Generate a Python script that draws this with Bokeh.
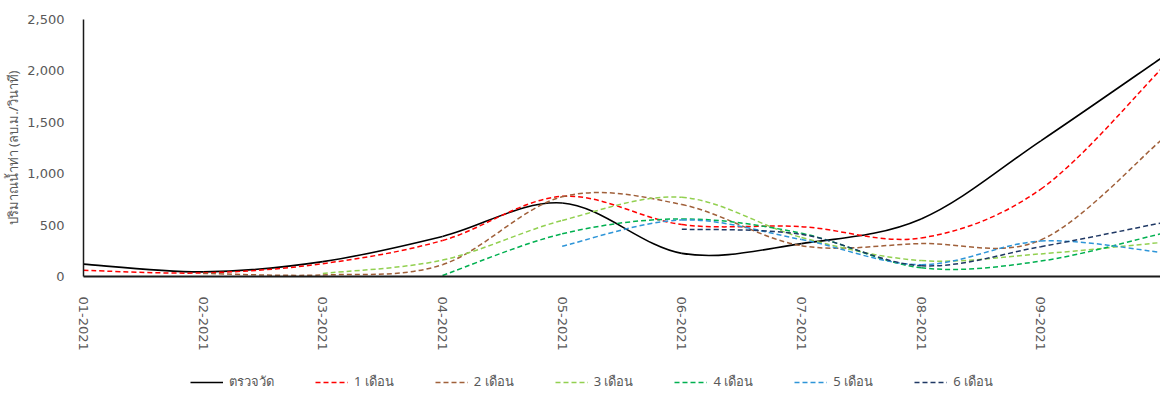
import numpy as np
from bokeh.plotting import figure
from bokeh.layouts import column
from bokeh.models import (Range1d, FixedTicker, NumeralTickFormatter, Legend,
                          LegendItem, ColumnDataSource)
from bokeh.embed import file_html
from bokeh.resources import INLINE

# ---------------- data ----------------
months = ["01-2021", "02-2021", "03-2021", "04-2021", "05-2021",
          "06-2021", "07-2021", "08-2021", "09-2021", "10-2021"]
tick_labels = months[:9]

observed = [120, 45, 145, 390, 715, 225, 320, 560, 1320, 2120]
lead_1 = [60, 35, 125, 350, 780, 505, 485, 375, 850, 2010]
lead_2 = [None, 30, 15, 115, 775, 700, 300, 320, 355, 1320]
lead_3 = [None, None, 30, 160, 545, 770, 380, 155, 220, 330]
lead_4 = [None, None, None, 10, 415, 560, 420, 85, 150, 415]
lead_5 = [None, None, None, None, 295, 550, 360, 115, 345, 235]
lead_6 = [None, None, None, None, None, 460, 410, 105, 290, 520]

series_names = ["ตรวจวัด", "1 เดือน", "2 เดือน", "3 เดือน", "4 เดือน", "5 เดือน", "6 เดือน"]
series_values = [observed, lead_1, lead_2, lead_3, lead_4, lead_5, lead_6]
series_colors = ["#000000", "#FF0000", "#A0603A", "#92D050", "#00B050", "#2E95D8", "#1F3864"]
series_dash = ["solid", "5 3", "5 3", "5 3", "5 3", "5 3", "5 3"]

y_label = "ปริมาณน้ำท่า (ลบ.ม./วินาที)"


def smooth_source(vals):
    """Bezier segments through the points (Excel-like smoothed line)."""
    idx = [i for i, v in enumerate(vals) if v is not None]
    xs = [float(i) for i in idx]
    ys = [float(vals[i]) for i in idx]
    n = len(xs)
    d = dict(x0=[], y0=[], x1=[], y1=[], cx0=[], cy0=[], cx1=[], cy1=[])
    for k in range(n - 1):
        xp, yp = (xs[k - 1], ys[k - 1]) if k > 0 else (xs[k], ys[k])
        xn, yn = (xs[k + 2], ys[k + 2]) if k + 2 < n else (xs[k + 1], ys[k + 1])
        d["x0"].append(xs[k]); d["y0"].append(ys[k])
        d["x1"].append(xs[k + 1]); d["y1"].append(ys[k + 1])
        d["cx0"].append(xs[k] + (xs[k + 1] - xp) / 6.0)
        d["cy0"].append(ys[k] + (ys[k + 1] - yp) / 6.0)
        d["cx1"].append(xs[k + 1] - (xn - xs[k]) / 6.0)
        d["cy1"].append(ys[k + 1] - (yn - ys[k]) / 6.0)
    return ColumnDataSource(d)


W = 1160
p = figure(width=W, height=355, output_backend="svg", toolbar_location=None,
           x_range=Range1d(0, len(months) - 1), y_range=Range1d(0, 2500),
           min_border_left=83, min_border_right=0, min_border_top=19,
           min_border_bottom=79)
p.outline_line_color = None
p.xgrid.visible = False
p.ygrid.visible = False

FONT = "DejaVu Sans"
TXT = "#595959"

# y axis
p.yaxis.ticker = FixedTicker(ticks=[0, 500, 1000, 1500, 2000, 2500])
p.yaxis.formatter = NumeralTickFormatter(format="0,0")
p.yaxis.axis_label = y_label
p.yaxis.axis_label_text_font = "Noto Sans"
p.yaxis.axis_label_text_font_style = "normal"
p.yaxis.axis_label_text_font_size = "13px"
p.yaxis.axis_label_text_color = TXT
p.yaxis.axis_label_standoff = 2
p.yaxis.major_label_text_font = FONT
p.yaxis.major_label_text_font_size = "13px"
p.yaxis.major_label_text_color = TXT
p.yaxis.major_label_standoff = 13
p.yaxis.major_tick_line_color = None
p.yaxis.minor_tick_line_color = None
p.yaxis.axis_line_color = "#1a1a1a"
p.yaxis.axis_line_width = 1.5

# x axis
p.xaxis.ticker = FixedTicker(ticks=list(range(len(tick_labels))))
p.xaxis.major_label_overrides = {i: lab for i, lab in enumerate(tick_labels)}
p.xaxis.major_label_orientation = "vertical"
p.xaxis.major_label_text_font = FONT
p.xaxis.major_label_text_font_size = "13px"
p.xaxis.major_label_text_color = TXT
p.xaxis.major_label_standoff = 14
p.xaxis.major_tick_line_color = None
p.xaxis.minor_tick_line_color = None
p.xaxis.axis_line_color = "#1a1a1a"
p.xaxis.axis_line_width = 2

# legend strip: a second figure whose copies of the series lie outside its view
leg = figure(width=W, height=44, output_backend="svg", toolbar_location=None,
             x_range=Range1d(0, len(months) - 1), y_range=Range1d(-6000, -5000),
             min_border=0, x_axis_type=None, y_axis_type=None)
leg.outline_line_color = None
leg.xgrid.visible = False
leg.ygrid.visible = False

items = []
for name, vals, col, dash in zip(series_names, series_values, series_colors, series_dash):
    src = smooth_source(vals)
    kw = dict(x0="x0", y0="y0", x1="x1", y1="y1", cx0="cx0", cy0="cy0",
              cx1="cx1", cy1="cy1", source=src, line_color=col,
              line_width=1.6 if dash == "solid" else 1.5, line_dash=dash)
    p.bezier(**kw)
    r = leg.bezier(**kw)
    items.append(LegendItem(label=name, renderers=[r]))

legend = Legend(items=items, location=(107, 7), orientation="horizontal",
                glyph_width=33, glyph_height=14, label_height=14,
                label_standoff=6, spacing=41, padding=0, margin=0,
                border_line_color=None, background_fill_alpha=0,
                label_text_font="Noto Sans", label_text_font_size="13px",
                label_text_color=TXT)
leg.add_layout(legend)

layout = column(p, leg, spacing=0)
open("out.html", "w").write(file_html(layout, INLINE))
